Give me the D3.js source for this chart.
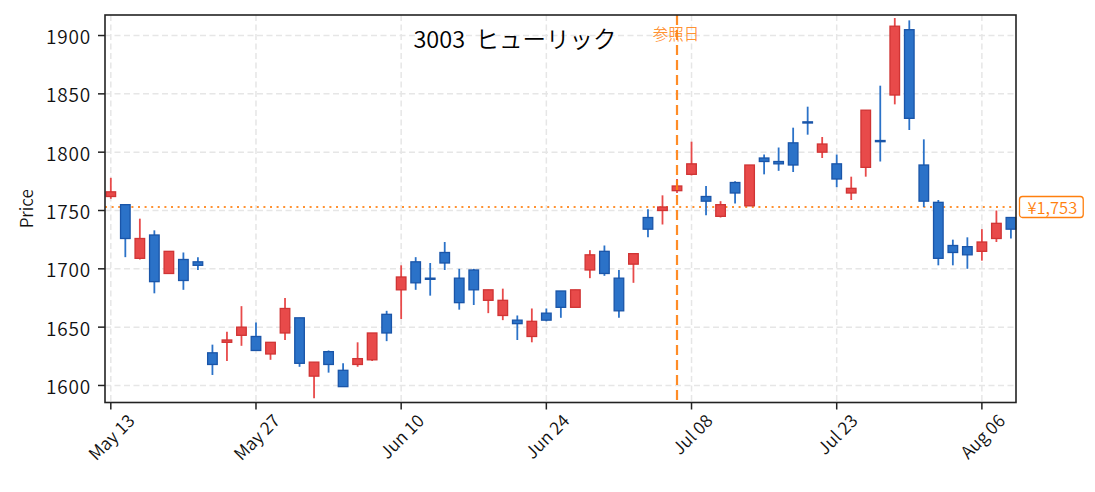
<!DOCTYPE html>
<html>
<head>
<meta charset="utf-8">
<style>
  body { margin: 0; background: #fff; }
  svg text { font-family: "Noto Sans CJK JP", "Noto Sans", sans-serif; font-weight: 350; }
</style>
</head>
<body>
<div id="chart"></div>
<script src="https://cdn.jsdelivr.net/npm/d3@7"></script>
<script>
// trading days (index based x axis)
const dates = [
  "05-13","05-14","05-15","05-16","05-17","05-20","05-21","05-22","05-23","05-24",
  "05-27","05-28","05-29","05-30","05-31","06-03","06-04","06-05","06-06","06-07",
  "06-10","06-11","06-12","06-13","06-14","06-17","06-18","06-19","06-20","06-21",
  "06-24","06-25","06-26","06-27","06-28","07-01","07-02","07-03","07-04","07-05",
  "07-08","07-09","07-10","07-11","07-12","07-16","07-17","07-18","07-19","07-22",
  "07-23","07-24","07-25","07-26","07-29","07-30","07-31","08-01","08-02","08-05",
  "08-06","08-07","08-08"
];
const open = [
  1762,1755,1709,1729,1696,1708,1706,1628,1637,1643,
  1642,1627,1645,1658,1608,1629,1613,1618,1622,1661,
  1682,1706,1692,1714,1692,1699,1673,1660,1656,1642,
  1662,1681,1667,1699,1715,1692,1704,1744,1750,1767,
  1781,1762,1745,1774,1754,1795,1792,1808,1826,1800,
  1790,1765,1787,1810,1849,1905,1789,1757,1720,1719,
  1715,1726,1744
];
const high = [
  1778,1755,1743,1733,1715,1714,1710,1635,1646,1668,
  1654,1637,1675,1658,1620,1630,1619,1637,1645,1664,
  1703,1710,1705,1723,1700,1700,1682,1683,1660,1666,
  1666,1681,1682,1716,1720,1699,1713,1751,1763,1777,
  1809,1771,1758,1775,1789,1798,1804,1821,1839,1813,
  1798,1779,1836,1857,1915,1913,1811,1759,1725,1727,
  1734,1750,1744
];
const low = [
  1760,1710,1708,1679,1696,1682,1699,1609,1621,1634,
  1630,1622,1639,1616,1589,1611,1599,1616,1621,1638,
  1657,1682,1677,1699,1665,1669,1662,1656,1639,1637,
  1655,1658,1667,1692,1694,1658,1688,1727,1738,1765,
  1780,1746,1744,1756,1754,1781,1784,1783,1815,1795,
  1770,1759,1779,1792,1841,1819,1753,1703,1703,1700,
  1707,1723,1726
];
const close = [
  1766,1726,1726,1689,1715,1690,1703,1618,1639,1650,
  1630,1637,1666,1619,1620,1618,1599,1623,1645,1645,
  1693,1688,1691,1705,1671,1682,1682,1673,1653,1655,
  1656,1667,1682,1712,1696,1664,1713,1734,1753,1771,
  1790,1758,1755,1765,1789,1792,1790,1789,1825,1807,
  1777,1769,1836,1809,1908,1829,1758,1709,1714,1712,
  1723,1739,1734
];
const monthNames = ["Jan","Feb","Mar","Apr","May","Jun","Jul","Aug","Sep","Oct","Nov","Dec"];
const xTickIdx = [0, 10, 20, 30, 40, 50, 60];
const yTicks = [1600, 1650, 1700, 1750, 1800, 1850, 1900];
const title = "3003  ヒューリック";
const refIdx = 39;          // 参照日
const refPrice = 1753;

const W = 1095, H = 492;
const margin = { left: 105, right: 79, top: 15, bottom: 89.5 };

const svg = d3.select("#chart").append("svg")
  .attr("width", W).attr("height", H);

const x = d3.scaleLinear().domain([-0.4, 62.35]).range([margin.left, W - margin.right]);
const y = d3.scaleLinear().domain([1585.4, 1917.6]).range([H - margin.bottom, margin.top]);

const x0 = margin.left, x1 = W - margin.right, y0 = margin.top, y1 = H - margin.bottom;
const tickLen = 7;

// grid
const grid = svg.append("g").attr("stroke", "#e6e6e6").attr("stroke-width", 1.5)
  .attr("stroke-dasharray", "6,3.5");
grid.selectAll(".gy").data(yTicks).join("line")
  .attr("x1", x0).attr("x2", x1).attr("y1", d => y(d)).attr("y2", d => y(d));
grid.selectAll(".gx").data(xTickIdx).join("line")
  .attr("y1", y0).attr("y2", y1).attr("x1", d => x(d)).attr("x2", d => x(d));

// reference price line
svg.append("line")
  .attr("x1", x0).attr("x2", x1).attr("y1", y(refPrice)).attr("y2", y(refPrice))
  .attr("stroke", "#ff7f0e").attr("stroke-opacity", 0.85).attr("stroke-width", 2)
  .attr("stroke-dasharray", "2,4.6");

// candles
const step = x(1) - x(0);
const bw = step * 0.66;
const upFill = "#e84a4a", upEdge = "#d03434";
const dnFill = "#2b72c8", dnEdge = "#1a55a8";
const candles = svg.append("g").selectAll("g").data(dates.map((d, i) => i)).join("g");
candles.append("line")
  .attr("x1", i => x(i)).attr("x2", i => x(i))
  .attr("y1", i => y(high[i])).attr("y2", i => y(low[i]))
  .attr("stroke", i => close[i] >= open[i] ? upFill : dnFill)
  .attr("stroke-width", 1.8);
candles.append("rect")
  .attr("x", i => x(i) - bw / 2)
  .attr("width", bw)
  .attr("y", i => y(Math.max(open[i], close[i])))
  .attr("height", i => Math.max(1, Math.abs(y(open[i]) - y(close[i]))))
  .attr("fill", i => close[i] >= open[i] ? upFill : dnFill)
  .attr("stroke", i => close[i] >= open[i] ? upEdge : dnEdge)
  .attr("stroke-width", 1.3);

// reference day
svg.append("line")
  .attr("x1", x(refIdx)).attr("x2", x(refIdx)).attr("y1", y0).attr("y2", y1)
  .attr("stroke", "#ff7f0e").attr("stroke-opacity", 0.9).attr("stroke-width", 2.2)
  .attr("stroke-dasharray", "10,5");

svg.append("text")
  .attr("x", x(refIdx) - 1).attr("y", 39.5)
  .attr("text-anchor", "middle")
  .attr("font-size", 15.5).attr("fill", "#ff7f0e").attr("fill-opacity", 0.85)
  .text("参照日");

// frame
svg.append("rect")
  .attr("x", x0).attr("y", y0).attr("width", x1 - x0).attr("height", y1 - y0)
  .attr("fill", "none").attr("stroke", "#222").attr("stroke-width", 1.6);

// y axis
const yAxis = svg.append("g");
yAxis.selectAll("line").data(yTicks).join("line")
  .attr("x1", x0 - tickLen).attr("x2", x0).attr("y1", d => y(d)).attr("y2", d => y(d))
  .attr("stroke", "#222").attr("stroke-width", 1.5);
yAxis.selectAll("text").data(yTicks).join("text")
  .attr("x", x0 - tickLen - 7).attr("y", d => y(d))
  .attr("text-anchor", "end").attr("dominant-baseline", "central")
  .attr("font-size", 19).attr("letter-spacing", 0.8).attr("fill", "#111")
  .text(d => d);

svg.append("text")
  .attr("transform", `translate(25,${(y0 + y1) / 2}) rotate(-90)`)
  .attr("text-anchor", "middle").attr("dominant-baseline", "central")
  .attr("font-size", 17).attr("fill", "#111")
  .text("Price");

// x axis
const xAxis = svg.append("g");
xAxis.selectAll("line").data(xTickIdx).join("line")
  .attr("x1", d => x(d)).attr("x2", d => x(d)).attr("y1", y1).attr("y2", y1 + tickLen)
  .attr("stroke", "#222").attr("stroke-width", 1.5);
const fmt = i => {
  const [m, d] = dates[i].split("-");
  return monthNames[+m - 1] + " " + d;
};
const xfs = 17.5;
xAxis.selectAll("text").data(xTickIdx).join("text")
  .attr("font-size", xfs).attr("fill", "#111")
  .attr("text-anchor", "middle").attr("dominant-baseline", "central")
  .text(fmt)
  .each(function (d) {
    const w = this.getComputedTextLength();
    const h = xfs * 0.85;
    const half = (w + h) / (2 * Math.SQRT2);
    d3.select(this).attr("transform",
      `translate(${x(d)},${y1 + 9 + half}) rotate(-45)`);
  });

// title
svg.append("text")
  .attr("x", 515).attr("y", 47.5)
  .attr("text-anchor", "middle")
  .attr("font-size", 23.5).attr("fill", "#000")
  .attr("xml:space", "preserve")
  .style("white-space", "pre")
  .text(title);

// price tag
const tag = svg.append("g").attr("transform", `translate(${x1 + 3.5},${y(refPrice)})`);
const tagText = tag.append("text")
  .attr("x", 8).attr("y", 0).attr("dominant-baseline", "central")
  .attr("font-size", 16.5).attr("fill", "#ff7f0e")
  .text("¥" + d3.format(",")(refPrice));
const tw = tagText.node().getComputedTextLength();
tag.insert("rect", "text")
  .attr("x", 0).attr("y", -10.5).attr("width", tw + 14).attr("height", 21)
  .attr("rx", 3).attr("fill", "#fff").attr("stroke", "#ff7f0e").attr("stroke-width", 1.3);
</script>
</body>
</html>
